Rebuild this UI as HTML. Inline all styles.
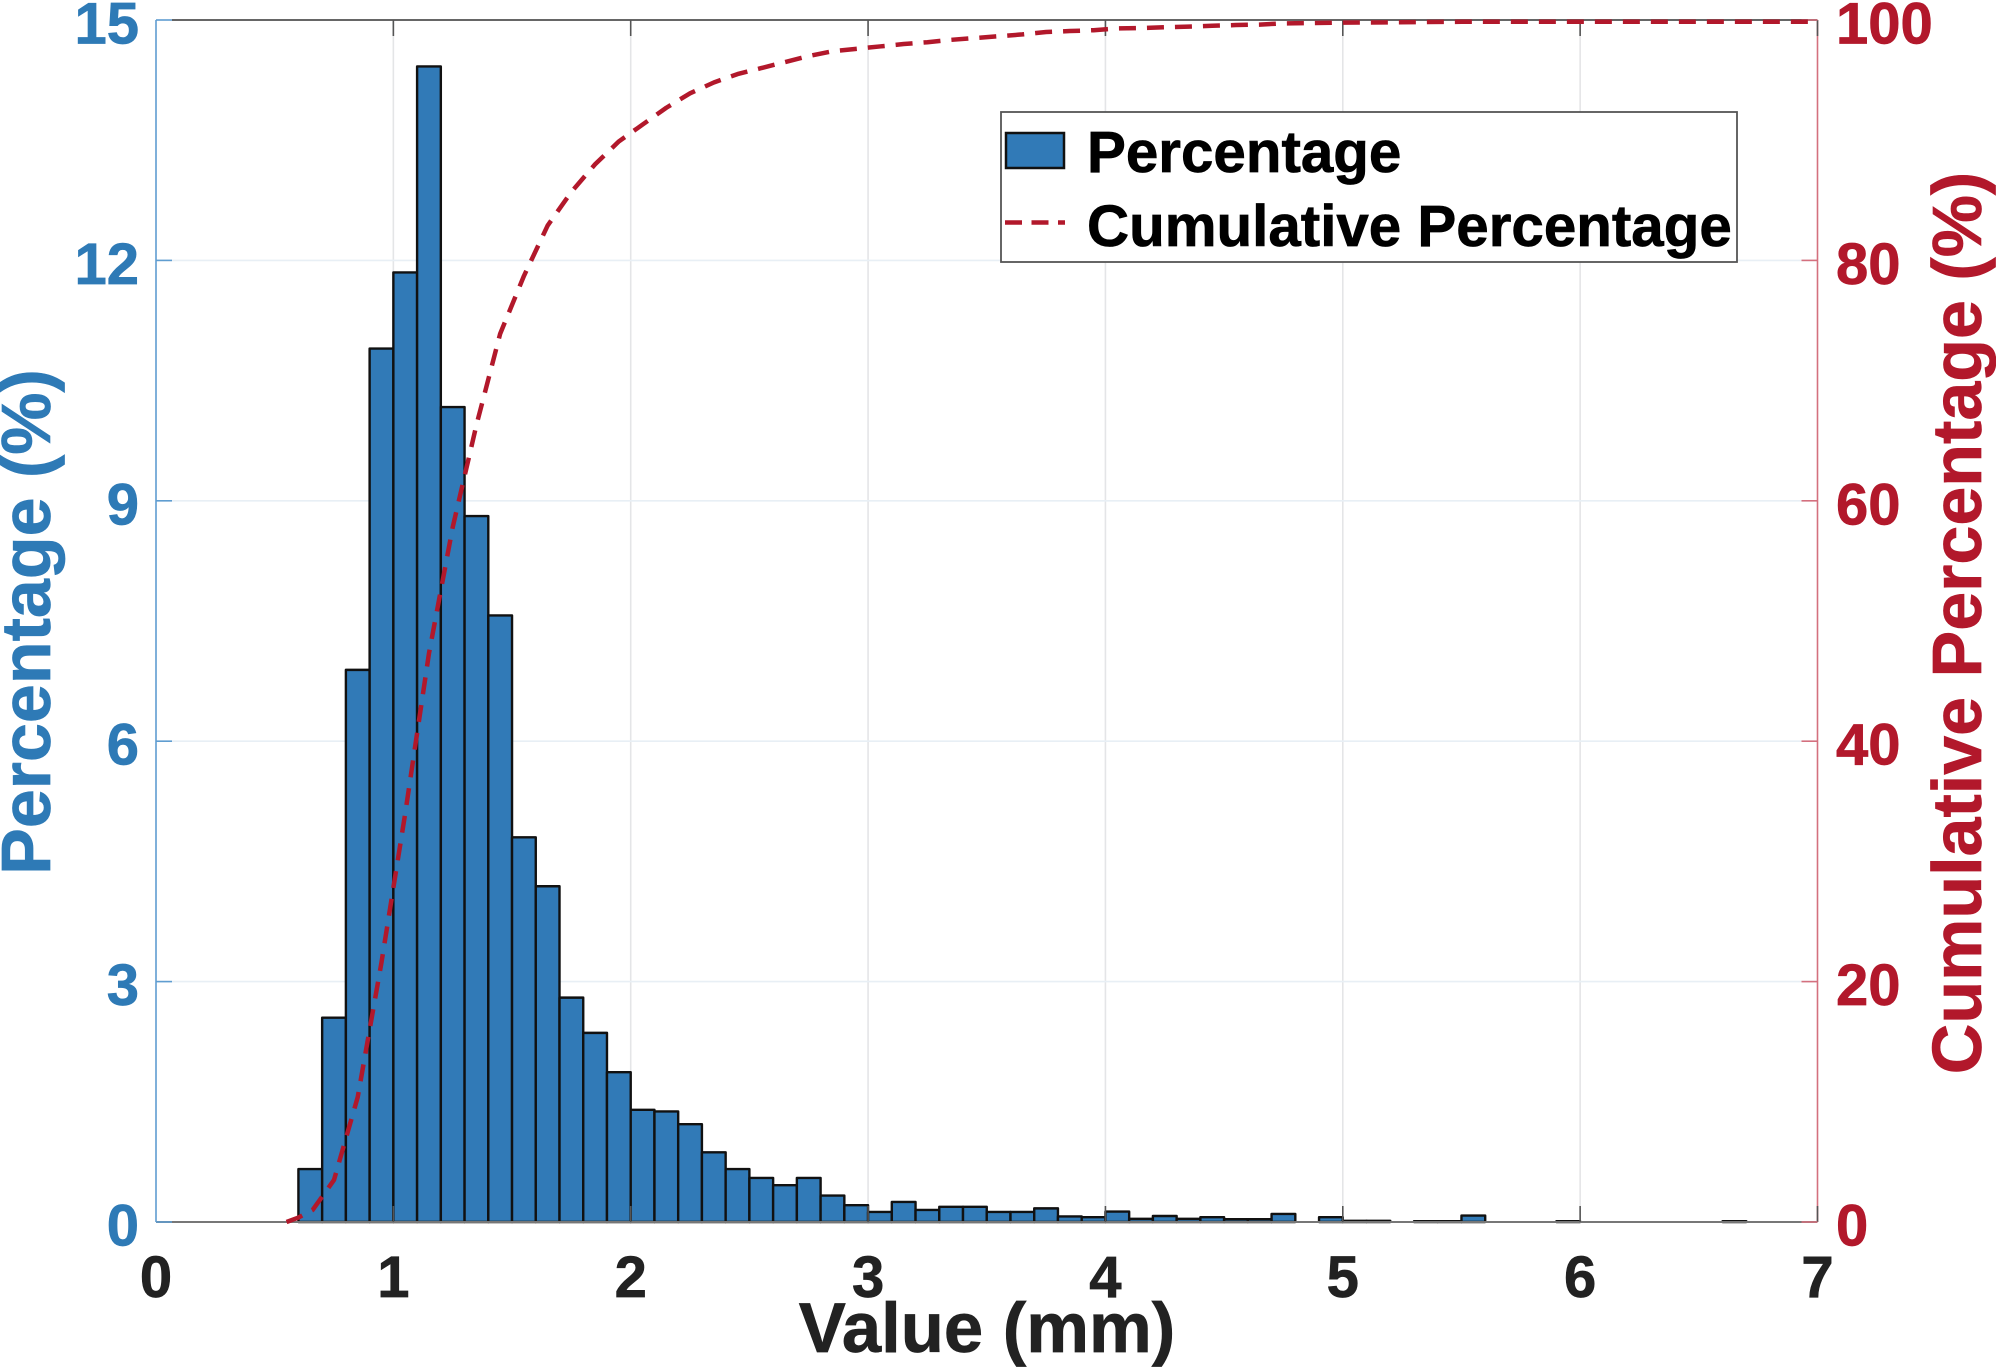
<!DOCTYPE html>
<html lang="en">
<head>
<meta charset="utf-8">
<title>Percentage and cumulative percentage histogram</title>
<style>
html,body{margin:0;padding:0;background:#fff;}
body{width:1996px;height:1369px;overflow:hidden;}
svg{display:block;}
text{font-family:"Liberation Sans",Arial,sans-serif;font-weight:700;stroke-width:0.7px;paint-order:stroke;}
</style>
</head>
<body>
<svg id="chart" width="1996" height="1369" viewBox="0 0 1996 1369" xmlns="http://www.w3.org/2000/svg">
  <rect x="0" y="0" width="1996" height="1369" fill="#fff"/>
  <g id="grid"></g>
  <g id="bars"></g>
  <g id="axes"></g>
  <g id="line"></g>
  <text x="987" y="1352" font-size="70.6" text-anchor="middle" fill="#222" stroke="#222">Value (mm)</text>
  <text transform="translate(50,622) rotate(-90)" font-size="70" text-anchor="middle" fill="#2e7ab6" stroke="#2e7ab6">Percentage (%)</text>
  <text transform="translate(1981,623) rotate(-90)" font-size="70" text-anchor="middle" fill="#b2182b" stroke="#b2182b">Cumulative Percentage (%)</text>
  <g>
    <rect x="1001" y="112" width="736" height="150" fill="#fff" stroke="#555" stroke-width="1.8"/>
    <rect x="1006" y="133" width="58" height="35" fill="#317ab7" stroke="#111" stroke-width="2.5"/>
    <line x1="1005" y1="222.5" x2="1065" y2="222.5" stroke="#b2182b" stroke-width="4.5" stroke-dasharray="17 9.5"/>
    <text x="1087" y="172" font-size="58.3" fill="#000" stroke="#000">Percentage</text>
    <text x="1087" y="246" font-size="58.3" fill="#000" stroke="#000">Cumulative Percentage</text>
  </g>
</svg>
<script>
const binStarts = [0.6,0.7,0.8,0.9,1.0,1.1,1.2,1.3,1.4,1.5,1.6,1.7,1.8,1.9,2.0,2.1,2.2,2.3,2.4,2.5,2.6,2.7,2.8,2.9,3.0,3.1,3.2,3.3,3.4,3.5,3.6,3.7,3.8,3.9,4.0,4.1,4.2,4.3,4.4,4.5,4.6,4.7,4.8,4.9,5.0,5.1,5.2,5.3,5.4,5.5,5.6,5.7,5.8,5.9,6.0,6.1,6.2,6.3,6.4,6.5,6.6];
const percentages = [0.66,2.55,6.89,10.9,11.85,14.42,10.17,8.81,7.57,4.8,4.19,2.8,2.36,1.87,1.4,1.38,1.22,0.87,0.66,0.55,0.46,0.55,0.33,0.21,0.125,0.25,0.15,0.19,0.19,0.125,0.125,0.17,0.07,0.06,0.13,0.04,0.075,0.04,0.06,0.035,0.035,0.1,0,0.06,0.015,0.015,0,0.01,0.01,0.08,0,0,0,0.01,0,0,0,0,0,0,0.01];
const cumulativeX = [0.55,0.6,0.66,0.75,0.85,0.95,1.05,1.15,1.25,1.35,1.45,1.55,1.65,1.75,1.85,1.95,2.05,2.15,2.25,2.35,2.45,2.55,2.65,2.75,2.85,2.95,3.05,3.15,3.25,3.35,3.45,3.55,3.65,3.75,3.85,3.95,4.05,4.15,4.25,4.35,4.45,4.55,4.65,4.75,4.85,5.0,5.5,6,7];
const cumulativeY = [0,0.37,1,3.5,10.4,21.6,34,47.3,57.8,66.3,73.9,78.7,82.9,85.7,88,89.9,91.3,92.7,93.9,94.8,95.5,96,96.5,97,97.4,97.6,97.8,98,98.15,98.35,98.5,98.65,98.8,99,99.08,99.15,99.3,99.33,99.4,99.45,99.52,99.58,99.62,99.72,99.74,99.78,99.85,99.85,99.85];
const xTicks = [0,1,2,3,4,5,6,7];
const leftTicks = [0,3,6,9,12,15];
const rightTicks = [0,20,40,60,80,100];

const NS = 'http://www.w3.org/2000/svg';
const plot = {left:156, right:1817.5, top:20, bottom:1222};
const binWidth = 0.1;
function xScale(v){ return plot.left + (v/7)*(plot.right-plot.left); }
function yLeft(v){ return plot.bottom - (v/15)*(plot.bottom-plot.top); }
function yRight(v){ return plot.bottom - (v/100)*(plot.bottom-plot.top); }
function make(tag, attrs, parent){
  const el = document.createElementNS(NS, tag);
  for (const k in attrs) el.setAttribute(k, attrs[k]);
  parent.appendChild(el);
  return el;
}
const gridG = document.getElementById('grid');
const barsG = document.getElementById('bars');
const axesG = document.getElementById('axes');
const lineG = document.getElementById('line');

xTicks.forEach(function(t){
  if (t > 0 && t < 7) {
    const g = make('line', {x1:xScale(t), x2:xScale(t), y1:plot.top, y2:plot.bottom, stroke:'#e4e5e7', 'stroke-width':1.6}, gridG);
    
    
  }
});
leftTicks.forEach(function(t){
  if (t > 0 && t < 15) {
    const g = make('line', {x1:plot.left, x2:plot.right, y1:yLeft(t), y2:yLeft(t), stroke:'#e8eff5', 'stroke-width':1.6}, gridG);
    
    
  }
});

binStarts.forEach(function(start, i){
  const v = percentages[i];
  if (!v) return;
  const x0 = xScale(start), x1 = xScale(start + binWidth), y = yLeft(v);
  const r = make('rect', {x:x0, y:y, width:x1-x0, height:plot.bottom-y, fill:'#317ab7', stroke:'#111', 'stroke-width':2.4, 'stroke-linejoin':'round'}, barsG);
  
  
});

const topAxis = make('line', {x1:plot.left+16, x2:plot.right, y1:plot.top, y2:plot.top, stroke:'#666', 'stroke-width':2}, axesG);


const bottomAxis = make('line', {x1:plot.left, x2:plot.right, y1:plot.bottom, y2:plot.bottom, stroke:'#777', 'stroke-width':2}, axesG);


const leftAxis = make('line', {x1:plot.left, x2:plot.left, y1:plot.top, y2:plot.bottom, stroke:'#5f9dd0', 'stroke-width':1.6}, axesG);


const rightAxis = make('line', {x1:plot.right, x2:plot.right, y1:plot.top, y2:plot.bottom, stroke:'#d4707e', 'stroke-width':1.6}, axesG);



xTicks.forEach(function(t){
  const x = xScale(t);
  if (t > 0) {
    const a = make('line', {x1:x, x2:x, y1:plot.top, y2:plot.top+16, stroke:'#555', 'stroke-width':1.6}, axesG);
    
    
    const b = make('line', {x1:x, x2:x, y1:plot.bottom, y2:plot.bottom-16, stroke:'#555', 'stroke-width':1.6}, axesG);
    
    
  }
  const l = make('text', {x:x, y:1297, 'font-size':58, 'text-anchor':'middle', fill:'#222', stroke:'#222'}, axesG);
  l.textContent = t;
  
  
});
leftTicks.forEach(function(t){
  const y = yLeft(t);
  const a = make('line', {x1:plot.left, x2:plot.left+16, y1:y, y2:y, stroke:'#5f9dd0', 'stroke-width':1.6}, axesG);
  
  
  const l = make('text', {x:139, y:y+23.5, 'font-size':58, 'text-anchor':'end', fill:'#2e7ab6', stroke:'#2e7ab6'}, axesG);
  l.textContent = t;
  
  
});
rightTicks.forEach(function(t){
  const y = yRight(t);
  const a = make('line', {x1:plot.right, x2:plot.right-16, y1:y, y2:y, stroke:'#d4707e', 'stroke-width':1.6}, axesG);
  
  
  const l = make('text', {x:1836, y:y+23.5, 'font-size':58, 'text-anchor':'start', fill:'#b2182b', stroke:'#b2182b'}, axesG);
  l.textContent = t;
  
  
});

const pts = cumulativeX.map(function(x, i){ return xScale(x).toFixed(2) + ',' + yRight(cumulativeY[i]).toFixed(2); }).join(' ');
const cum = make('polyline', {points:pts, fill:'none', stroke:'#b2182b', 'stroke-width':4.5, 'stroke-dasharray':'17 11', 'stroke-linejoin':'round'}, lineG);


</script>
</body>
</html>
